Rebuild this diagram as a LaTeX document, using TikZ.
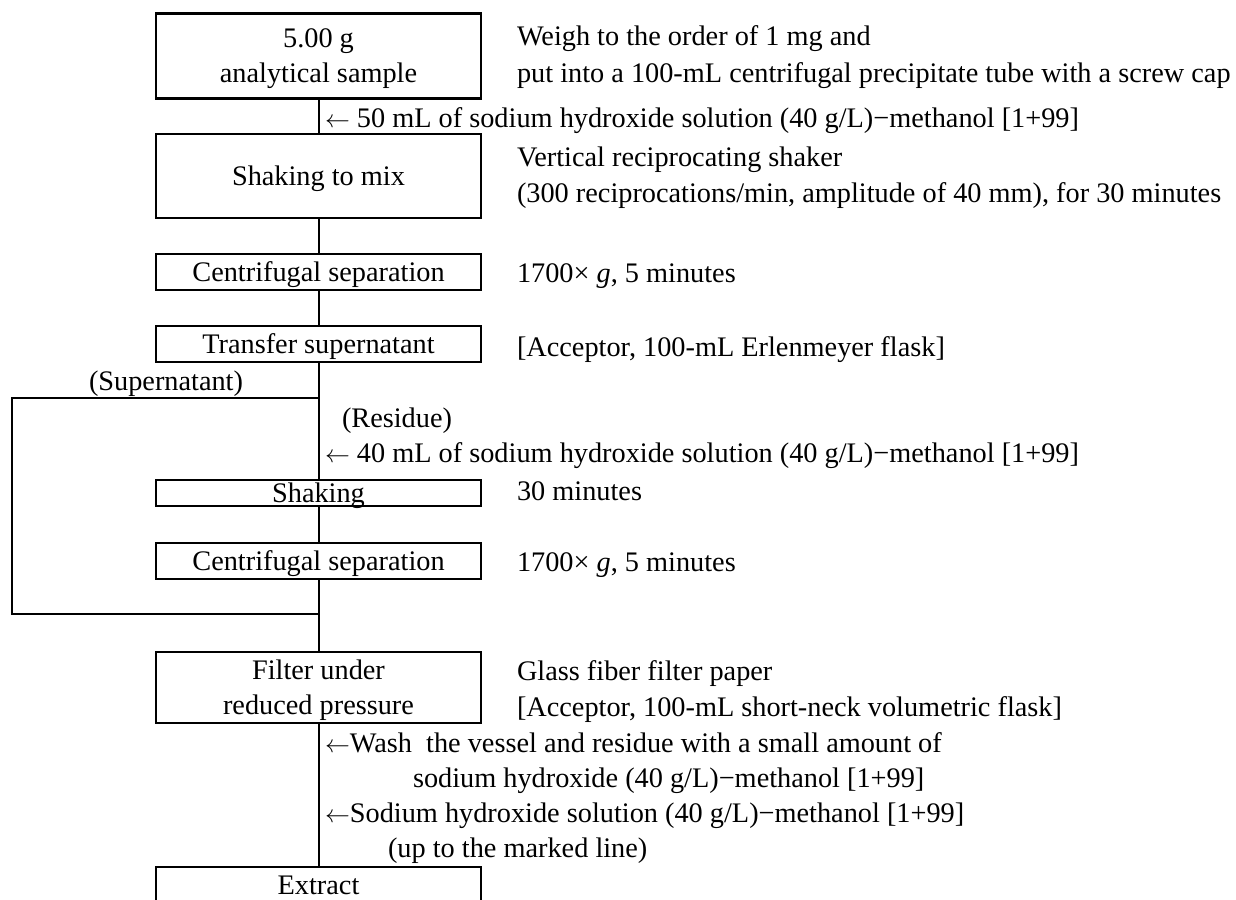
\documentclass[tikz,border=0pt]{standalone}
\usepackage{fontspec}
\setmainfont{Liberation Serif}
\newcommand{\larr}{$\leftarrow$}
\begin{document}
\begin{tikzpicture}[x=1pt,y=-1pt,
  base/.style={font=\fontsize{28.3}{35.5}\selectfont, inner sep=0pt, outer sep=0pt},
  box/.style={base, draw, line width=2.6pt, minimum width=325pt, text height=18.7pt, text depth=0pt, align=center},
  boxtwo/.style={box, text height=54.2pt},
  conn/.style={line width=2pt},
  lbl/.style={base, anchor=base west}]
\useasboundingbox (0,0) rectangle (1236,899);
\clip (0,0) rectangle (1236,899);

% process boxes
\node[boxtwo, minimum height=85pt] (b1) at (318.5,55.8) {5.00 g\\analytical sample};
\node[box, minimum height=84pt] (b2) at (318.5,176) {Shaking to mix};
\node[box, minimum height=36pt] (b3) at (318.5,272) {Centrifugal separation};
\node[box, minimum height=36pt] (b4) at (318.5,344) {Transfer supernatant};
\node[box, minimum height=26pt] (b5) at (318.5,493) {Shaking};
\node[box, minimum height=36pt] (b6) at (318.5,561) {Centrifugal separation};
\node[boxtwo, minimum height=71pt] (b7) at (318.5,687.5) {Filter under\\reduced pressure};
\node[box, minimum height=36pt] (b8) at (318.5,885) {Extract};

% connectors
\draw[conn] (b1) -- (b2);
\draw[conn] (b2) -- (b3);
\draw[conn] (b3) -- (b4);
\draw[conn] (b4) -- (b5);
\draw[conn] (b5) -- (b6);
\draw[conn] (b6) -- (b7);
\draw[conn] (b7) -- (b8);
\coordinate (br) at (318.5,398);
\coordinate (tl) at (12,398);
\coordinate (bl) at (12,614);
\coordinate (jn) at (318.5,614);
\draw[conn] (br) -- (tl) -- (bl) -- (jn);

% right-hand notes
\node[lbl] (r1) at (517,46) {Weigh to the order of 1 mg and};
\node[lbl] (r2) at (517,82) {put into a 100-mL centrifugal precipitate tube with a screw cap};
\node[lbl] (r3) at (517,166) {Vertical reciprocating shaker};
\node[lbl] (r4) at (517,202) {(300 reciprocations/min, amplitude of 40 mm), for 30 minutes};
\node[lbl] (r5) at (517,282) {1700× \textit{g}, 5 minutes};
\node[lbl] (r6) at (517,356) {[Acceptor, 100-mL Erlenmeyer flask]};
\node[lbl] (r7) at (517,500) {30 minutes};
\node[lbl] (r8) at (517,571) {1700× \textit{g}, 5 minutes};
\node[lbl] (r9) at (517,680) {Glass fiber filter paper};
\node[lbl] (r10) at (517,716) {[Acceptor, 100-mL short-neck volumetric flask]};

% additions along the line
\node[lbl] (l1) at (325,127) {\larr{} 50 mL of sodium hydroxide solution (40 g/L)−methanol [1+99]};
\node[lbl] (sup) at (89,390) {(Supernatant)};
\node[lbl] (res) at (342,427) {(Residue)};
\node[lbl] (l2) at (325,462) {\larr{} 40 mL of sodium hydroxide solution (40 g/L)−methanol [1+99]};
\node[lbl] (w1) at (325,752) {\larr{}Wash\ \ the vessel and residue with a small amount of};
\node[lbl] (w2) at (413,787) {sodium hydroxide (40 g/L)−methanol [1+99]};
\node[lbl] (w3) at (325,822) {\larr{}Sodium hydroxide solution (40 g/L)−methanol [1+99]};
\node[lbl] (w4) at (388,857) {(up to the marked line)};
\end{tikzpicture}
\end{document}
